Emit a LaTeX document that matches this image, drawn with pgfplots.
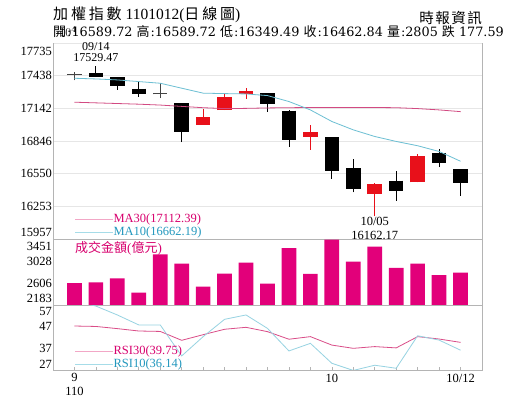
\documentclass[border=0pt]{standalone}
\usepackage{pgfplots}
\pgfplotsset{compat=1.18}
\usepackage{fontspec}
\setmainfont{Liberation Serif}
\newfontfamily\cjk{Noto Sans CJK TC}
\newfontfamily\cjksp[LetterSpace=10]{Noto Sans CJK TC}
\newfontfamily\cjkt[LetterSpace=19]{Noto Sans CJK TC}
\newfontfamily\serifw{DejaVu Serif}
\definecolor{gridgray}{HTML}{E6E6E6}
\definecolor{axgray}{HTML}{B4B4B4}
\definecolor{volpink}{HTML}{E2007A}
\definecolor{redc}{HTML}{E8101A}
\definecolor{ma30}{HTML}{D24A82}
\definecolor{ma10}{HTML}{6CBFD3}
\definecolor{ma30light}{HTML}{F2A7C6}
\definecolor{ma10light}{HTML}{A6DCE8}
\definecolor{pinktxt}{HTML}{D8006E}
\definecolor{cyantxt}{HTML}{2398BE}
\definecolor{rsi30}{HTML}{DA4D88}
\definecolor{rsi10}{HTML}{97D3E2}
\definecolor{dojic}{HTML}{444444}
\newcommand{\C}[1]{{\cjk\fontsize{13}{13}\selectfont #1}}
\begin{document}
\begin{tikzpicture}
\fill[white] (0,0) rectangle (515pt,413pt);
\useasboundingbox (0,0) rectangle (515pt,413pt);
% titles
\node[anchor=base west, inner sep=0pt, font=\fontsize{15.5}{15.5}\selectfont] at (53pt,393pt)
  {{\cjkt\fontsize{15}{15}\selectfont 加權指數} 1101012({\cjkt\fontsize{15}{15}\selectfont 日線圖})};
\node[anchor=base east, inner sep=0pt] at (482pt,389.5pt) {\cjksp\fontsize{14.5}{14.5}\selectfont 時報資訊};
\node[anchor=base west, inner sep=0pt, font=\serifw\fontsize{12.8}{12.8}\selectfont] at (53pt,376pt)
  {\C{開}\kern1pt:16589.72 \C{高}\kern1pt:16589.72 \C{低}\kern1pt:16349.49 \C{收}\kern1pt:16462.84 \C{量}\kern1pt:2805 \C{跌} 177.59};

% ---------------- price panel ----------------
\begin{axis}[
  at={(53pt,174pt)}, anchor=south west, scale only axis,
  width=429pt, height=196pt,
  xmin=-1, xmax=19, ymin=15957, ymax=17735,
  xtick=\empty,
  ytick={15957,16253.33,16549.67,16846,17142.33,17438.67,17735},
  yticklabels={\raisebox{2.3pt}[0pt][0pt]{15957},16253,16550,16846,17142,17438,\raisebox{-13pt}[0pt][0pt]{17735}},
  yticklabel style={font=\fontsize{12.5}{12.5}\selectfont, inner sep=1pt},
  /pgf/number format/assume math mode=true,
  major tick length=0pt,
  ymajorgrids, major grid style={draw=gridgray, line width=0.7pt},
  separate axis lines,
  x axis line style={draw=none},
  y axis line style={draw=axgray, line width=0.8pt},
  unbounded coords=jump,
  legend style={draw=none, fill=none, at={(axis description cs:0.0513,0.1337)}, anchor=north west,
    inner sep=0pt, outer sep=0pt, row sep=0pt, font=\fontsize{12.5}{12.5}\selectfont,
    nodes={inner sep=0pt, text height=9.5pt, text depth=3.5pt, anchor=west},
    /tikz/every even column/.append style={column sep=0pt}},
  legend cell align=left,
  legend image code/.code={\draw[#1] (0pt,0pt) -- (38pt,0pt);},
]
% wicks
\addplot[forget plot, black, line width=0.8pt] coordinates {
 (1,17430) (1,17529.47) (1,nan)
 (2,17310) (2,17430) (2,nan)
 (3,17249) (3,17394) (3,nan)
 (5,16836) (5,17192) (5,nan)
 (9,17113) (9,17285) (9,nan)
 (10,16796) (10,17125) (10,nan)
 (12,16504) (12,16880) (12,nan)
 (13,16380) (13,16682) (13,nan)
 (15,16305) (15,16570) (15,nan)
 (17,16610) (17,16773) (17,nan)
 (18,16349.49) (18,16589.72)};
\addplot[forget plot, redc, line width=0.8pt] coordinates {
 (6,16995) (6,17135) (6,nan)
 (7,17126) (7,17271) (7,nan)
 (8,17228) (8,17325) (8,nan)
 (11,16766) (11,16993) (11,nan)
 (14,16162.17) (14,16462) (14,nan)
 (16,16470) (16,16730)};
\addplot[forget plot, dojic, line width=0.8pt] coordinates {
 (0,17395) (0,17470) (0,nan)
 (4,17234) (4,17376)};
% bodies
\addplot[forget plot, black, line width=14.5pt] coordinates {
 (1,17461) (1,17430) (1,nan)
 (2,17425) (2,17349) (2,nan)
 (3,17321) (3,17276) (3,nan)
 (5,17189) (5,16927) (5,nan)
 (9,17280) (9,17180) (9,nan)
 (10,17122) (10,16854) (10,nan)
 (12,16878) (12,16576) (12,nan)
 (13,16601) (13,16413) (13,nan)
 (15,16486) (15,16395) (15,nan)
 (17,16739) (17,16642) (17,nan)
 (18,16589.72) (18,16462.84)};
\addplot[forget plot, redc, line width=14.5pt] coordinates {
 (6,16995) (6,17068) (6,nan)
 (7,17126) (7,17249) (7,nan)
 (8,17273) (8,17303) (8,nan)
 (11,16884) (11,16929) (11,nan)
 (14,16365) (14,16459) (14,nan)
 (16,16470) (16,16712)};
\addplot[forget plot, dojic, line width=14.5pt] coordinates {
 (0,17441) (0,17450) (0,nan)
 (4,17269) (4,17278)};
% moving averages
\addplot[ma30, line width=0.8pt, legend image post style={ma30light, line width=0.6pt}] coordinates {
 (0,17198) (1,17192) (2,17186) (3,17180) (4,17172) (5,17160) (6,17148) (7,17140) (8,17142) (9,17146)
 (10,17148) (11,17150) (12,17150) (13,17150) (14,17150) (15,17148) (16,17140) (17,17128) (18,17112.39)};
\addlegendentry{\textcolor{pinktxt}{MA30(17112.39)}}
\addplot[ma10, line width=0.8pt, legend image post style={ma10light, line width=0.6pt}] coordinates {
 (0,17415) (1,17409) (2,17400) (3,17385) (4,17370) (5,17325) (6,17280) (7,17276) (8,17273) (9,17258)
 (10,17204) (11,17128) (12,17023) (13,16947) (14,16887) (15,16842) (16,16803) (17,16751) (18,16662.19)};
\addlegendentry{\textcolor{cyantxt}{MA10(16662.19)}}
\node[anchor=south, align=center, inner sep=0pt, yshift=4pt, font=\fontsize{12}{10.5}\selectfont]
  at (axis cs:1,17529.47) {09/14\\17529.47};
\coordinate (lowpt) at (axis cs:14,16162.17);
\end{axis}

% ---------------- volume panel ----------------
\begin{axis}[
  at={(53pt,108pt)}, anchor=south west, scale only axis,
  width=429pt, height=66pt,
  xmin=-1, xmax=19, ymin=2183, ymax=3451,
  xtick=\empty,
  ytick={2183,2605.67,3028.33,3451},
  yticklabels={\raisebox{2.9pt}[0pt][0pt]{2183},2606,3028,\raisebox{-11.8pt}[0pt][0pt]{3451}},
  yticklabel style={font=\fontsize{12.5}{12.5}\selectfont, inner sep=1pt},
  /pgf/number format/assume math mode=true,
  major tick length=0pt,
  axis line style={draw=axgray, line width=0.8pt},
]
\addplot[ybar, bar width=14.7pt, bar shift=0pt, fill=volpink, draw=none] coordinates {
 (0,2605) (1,2618) (2,2694) (3,2423) (4,3154) (5,2978) (6,2537) (7,2788) (8,2997) (9,2593)
 (10,3275) (11,2783) (12,3438) (13,3016) (14,3305) (15,2896) (16,2978) (17,2756) (18,2805)};
\node[anchor=west, inner sep=0pt, text=pinktxt, font=\fontsize{13}{13}\selectfont]
  at (axis description cs:0.0513,0.855) {{\cjk 成交金額}({\cjk 億元})};
\end{axis}

% ---------------- RSI panel ----------------
\begin{axis}[
  at={(53pt,43pt)}, anchor=south west, scale only axis,
  width=429pt, height=65pt,
  xmin=-1, xmax=19, ymin=27, ymax=57,
  ytick={27,37,47,57},
  yticklabels={\raisebox{1.9pt}[0pt][0pt]{27},37,47,\raisebox{-10.8pt}[0pt][0pt]{57}},
  yticklabel style={font=\fontsize{12.5}{12.5}\selectfont, inner sep=1pt},
  xtick={0,12,18},
  xticklabels={{9\\110},10,10/12},
  xticklabel style={font=\fontsize{12.5}{13.7}\selectfont, align=center, inner sep=1pt, yshift=-2.5pt},
  minor xtick={0,...,18},
  /pgf/number format/assume math mode=true,
  major tick length=0pt, minor tick length=3pt,
  tick align=inside, xtick pos=left, ytick pos=left,
  tick style={draw=axgray, line width=0.6pt},
  axis line style={draw=axgray, line width=0.8pt},
  legend style={draw=none, fill=none, at={(axis description cs:0.0513,0.392)}, anchor=north west,
    inner sep=0pt, outer sep=0pt, row sep=0pt, font=\fontsize{12.5}{12.5}\selectfont,
    nodes={inner sep=0pt, text height=9.5pt, text depth=3.5pt, anchor=west},
    /tikz/every even column/.append style={column sep=0pt}},
  legend cell align=left,
  legend image code/.code={\draw[#1] (0pt,0pt) -- (38pt,0pt);},
]
\addplot[rsi30, line width=0.8pt, legend image post style={ma30light, line width=0.6pt}] coordinates {
 (0,47.3) (1,47.1) (2,46.1) (3,45.0) (4,44.8) (5,40.7) (6,43.3) (7,45.8) (8,46.7) (9,44.7)
 (10,41.2) (11,42.4) (12,38.5) (13,37.0) (14,37.8) (15,37.2) (16,42.4) (17,41.3) (18,39.75)};
\addlegendentry{\textcolor{pinktxt}{RSI30(39.75)}}
\addplot[rsi10, line width=0.8pt, legend image post style={ma10light, line width=0.6pt}] coordinates {
 (0,59) (1,56.5) (2,52.4) (3,47.8) (4,47.8) (5,33.5) (6,42.4) (7,50.4) (8,52.4) (9,46.2)
 (10,35.8) (11,39.3) (12,30.1) (13,26.8) (14,29.2) (15,27.8) (16,42.8) (17,40.8) (18,36.14)};
\addlegendentry{\textcolor{cyantxt}{RSI10(36.14)}}
\end{axis}

\node[anchor=north, align=center, inner xsep=2pt, inner ysep=0pt, yshift=-1pt, fill=white,
  font=\fontsize{12.5}{13.3}\selectfont] at (lowpt) {10/05\\16162.17};
\end{tikzpicture}
\end{document}
